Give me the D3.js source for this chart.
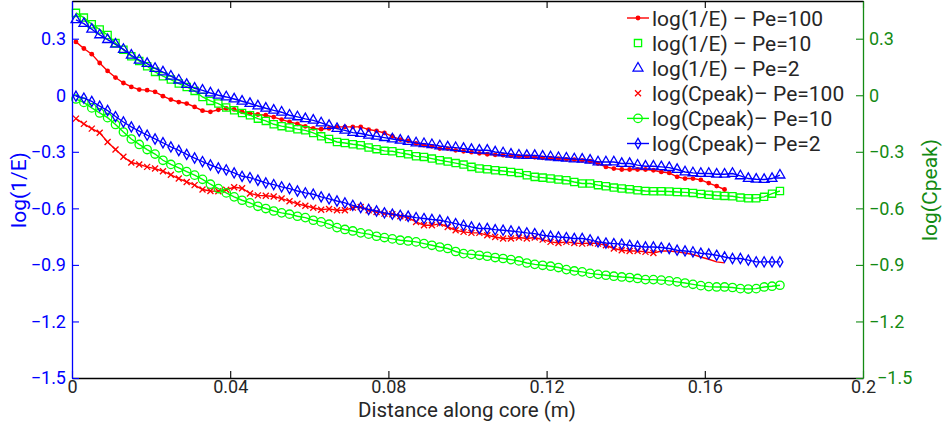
<!DOCTYPE html>
<html>
<head>
<meta charset="utf-8">
<script src="https://cdn.jsdelivr.net/npm/d3@7"></script>
<style>
body { margin: 0; background: #fff; }
svg text { font-family: Roboto, "Noto Sans", sans-serif; }
</style>
</head>
<body>
<svg width="943" height="424"></svg>
<script>
// distance along core (m), one value per marker
var distance = [
  0.001,0.003,0.005,0.007,0.009,0.011,0.013,0.015,0.017,0.019,
  0.021,0.023,0.025,0.027,0.029,0.031,0.033,0.035,0.037,0.039,
  0.041,0.043,0.045,0.047,0.049,0.051,0.053,0.055,0.057,0.059,
  0.061,0.063,0.065,0.067,0.069,0.071,0.073,0.075,0.077,0.079,
  0.081,0.083,0.085,0.087,0.089,0.091,0.093,0.095,0.097,0.099,
  0.101,0.103,0.105,0.107,0.109,0.111,0.113,0.115,0.117,0.119,
  0.121,0.123,0.125,0.127,0.129,0.131,0.133,0.135,0.137,0.139,
  0.141,0.143,0.145,0.147,0.149,0.151,0.153,0.155,0.157,0.159,
  0.161,0.163,0.165,0.167,0.169,0.171,0.173,0.175,0.177,0.179]

// log(1/E)
var e100 = [
  0.283,0.248,0.218,0.171,0.129,0.094,0.065,0.044,0.03,0.027,
  0.018,-0.005,-0.023,-0.036,-0.044,-0.062,-0.082,-0.088,-0.077,-0.07,
  -0.075,-0.088,-0.095,-0.102,-0.106,-0.116,-0.129,-0.141,-0.152,-0.165,
  -0.176,-0.18,-0.176,-0.168,-0.168,-0.168,-0.168,-0.182,-0.189,-0.2,
  -0.218,-0.235,-0.242,-0.256,-0.265,-0.271,-0.283,-0.283,-0.292,-0.297,
  -0.302,-0.308,-0.313,-0.316,-0.318,-0.321,-0.324,-0.326,-0.329,-0.332,
  -0.334,-0.337,-0.34,-0.342,-0.345,-0.35,-0.362,-0.38,-0.389,-0.394,
  -0.394,-0.394,-0.394,-0.398,-0.407,-0.412,-0.433,-0.442,-0.442,-0.449,
  -0.466,-0.482,-0.5]
var e10 = [
  0.437,0.412,0.377,0.349,0.32,0.277,0.242,0.207,0.182,0.154,
  0.124,0.101,0.083,0.062,0.044,0.023,-0.009,-0.03,-0.044,-0.065,
  -0.08,-0.094,-0.106,-0.124,-0.136,-0.154,-0.164,-0.171,-0.18,-0.186,
  -0.2,-0.218,-0.232,-0.248,-0.253,-0.26,-0.265,-0.277,-0.286,-0.295,
  -0.297,-0.306,-0.313,-0.324,-0.327,-0.336,-0.345,-0.352,-0.36,-0.368,
  -0.38,-0.389,-0.393,-0.398,-0.402,-0.407,-0.412,-0.424,-0.433,-0.437,
  -0.442,-0.447,-0.451,-0.46,-0.468,-0.468,-0.477,-0.483,-0.49,-0.495,
  -0.499,-0.504,-0.508,-0.509,-0.509,-0.511,-0.513,-0.515,-0.518,-0.524,
  -0.528,-0.532,-0.534,-0.536,-0.543,-0.546,-0.546,-0.539,-0.522,-0.508]
var e2 = [
  0.40,0.38,0.35,0.32,0.295,0.27,0.243,0.212,0.186,0.168,
  0.142,0.123,0.101,0.08,0.057,0.037,0.026,0.012,0.0,-0.009,
  -0.02,-0.032,-0.044,-0.057,-0.069,-0.08,-0.09,-0.106,-0.115,-0.125,
  -0.133,-0.147,-0.161,-0.177,-0.186,-0.198,-0.203,-0.212,-0.218,-0.225,
  -0.232,-0.239,-0.246,-0.253,-0.257,-0.262,-0.269,-0.275,-0.278,-0.283,
  -0.288,-0.292,-0.292,-0.301,-0.306,-0.313,-0.318,-0.32,-0.32,-0.324,
  -0.327,-0.331,-0.334,-0.338,-0.34,-0.345,-0.354,-0.354,-0.354,-0.362,
  -0.362,-0.371,-0.377,-0.377,-0.38,-0.384,-0.394,-0.407,-0.412,-0.415,
  -0.415,-0.419,-0.419,-0.415,-0.428,-0.442,-0.446,-0.447,-0.442,-0.424]

// log(Cpeak)
var c100 = [
  -0.124,-0.152,-0.177,-0.199,-0.248,-0.288,-0.326,-0.357,-0.367,-0.38,
  -0.389,-0.403,-0.422,-0.442,-0.46,-0.477,-0.5,-0.508,-0.509,-0.501,
  -0.488,-0.493,-0.521,-0.531,-0.533,-0.537,-0.548,-0.562,-0.576,-0.586,
  -0.597,-0.607,-0.603,-0.61,-0.61,-0.596,-0.593,-0.61,-0.619,-0.628,
  -0.631,-0.642,-0.649,-0.672,-0.69,-0.69,-0.681,-0.699,-0.716,-0.725,
  -0.73,-0.73,-0.743,-0.752,-0.76,-0.76,-0.755,-0.76,-0.755,-0.766,
  -0.778,-0.784,-0.778,-0.784,-0.787,-0.784,-0.787,-0.796,-0.813,-0.822,
  -0.826,-0.826,-0.831,-0.837,-0.826,-0.826,-0.831,-0.837,-0.845,-0.858,
  -0.87,-0.884,-0.889]
var c100Marked = 74   // crosses only drawn on the first points
var c10 = [
  -0.02,-0.038,-0.067,-0.094,-0.119,-0.155,-0.195,-0.232,-0.261,-0.288,
  -0.312,-0.345,-0.367,-0.385,-0.405,-0.424,-0.446,-0.472,-0.495,-0.518,
  -0.539,-0.557,-0.571,-0.589,-0.601,-0.614,-0.624,-0.631,-0.642,-0.649,
  -0.663,-0.672,-0.684,-0.702,-0.712,-0.72,-0.73,-0.737,-0.748,-0.755,
  -0.762,-0.769,-0.773,-0.778,-0.787,-0.796,-0.805,-0.813,-0.829,-0.84,
  -0.844,-0.849,-0.854,-0.861,-0.866,-0.872,-0.879,-0.89,-0.897,-0.902,
  -0.907,-0.914,-0.925,-0.932,-0.937,-0.945,-0.95,-0.955,-0.96,-0.964,
  -0.967,-0.972,-0.978,-0.978,-0.981,-0.985,-0.99,-0.996,-1.003,-1.01,
  -1.015,-1.017,-1.017,-1.02,-1.026,-1.028,-1.026,-1.017,-1.013,-1.008]
var c2 = [
  -0.005,-0.015,-0.033,-0.058,-0.081,-0.113,-0.142,-0.168,-0.19,-0.212,
  -0.232,-0.252,-0.274,-0.293,-0.314,-0.333,-0.352,-0.37,-0.386,-0.396,
  -0.412,-0.43,-0.437,-0.451,-0.465,-0.474,-0.486,-0.495,-0.508,-0.518,
  -0.525,-0.539,-0.55,-0.561,-0.571,-0.584,-0.596,-0.606,-0.614,-0.624,
  -0.631,-0.637,-0.642,-0.649,-0.654,-0.659,-0.663,-0.672,-0.681,-0.69,
  -0.699,-0.707,-0.707,-0.713,-0.716,-0.72,-0.725,-0.73,-0.734,-0.743,
  -0.748,-0.752,-0.755,-0.76,-0.76,-0.767,-0.778,-0.784,-0.787,-0.79,
  -0.796,-0.801,-0.805,-0.805,-0.808,-0.813,-0.822,-0.826,-0.831,-0.838,
  -0.842,-0.849,-0.858,-0.866,-0.866,-0.875,-0.884,-0.884,-0.884,-0.884]

var xTicks = [0, 0.04, 0.08, 0.12, 0.16, 0.2]
var xTickLabels = ["0", "0.04", "0.08", "0.12", "0.16", "0.2"]
var yTicks = [0.3, 0, -0.3, -0.6, -0.9, -1.2, -1.5]
var yTickLabels = ["0.3", "0", "\u22120.3", "\u22120.6", "\u22120.9", "\u22121.2", "\u22121.5"]
var legendLabels = ["log(1/E) \u2013 Pe=100", "log(1/E) \u2013 Pe=10", "log(1/E) \u2013 Pe=2",
                    "log(Cpeak)\u2013 Pe=100", "log(Cpeak)\u2013 Pe=10", "log(Cpeak)\u2013 Pe=2"]

var RED = "#ff0000", GREEN = "#00ff00", BLUE = "#0000ff"
var AXGREEN = "#138a13", INK = "#262626"

var svg = d3.select("svg")

var x = d3.scaleLinear().domain([0, 0.2]).range([72, 863])
var yL = d3.scaleLinear().domain([-1.5, 0.5]).range([378, 1])
var yR = d3.scaleLinear().domain([-1.5, 0.5]).range([378, 1])

var series = [
  {vals: e100, y: yL, color: RED,   marker: "dot",      legendLine: true},
  {vals: e10,  y: yL, color: GREEN, marker: "square",   legendLine: false},
  {vals: e2,   y: yL, color: BLUE,  marker: "triangle", legendLine: false},
  {vals: c100, y: yR, color: RED,   marker: "cross",    legendLine: false, marked: c100Marked},
  {vals: c10,  y: yR, color: GREEN, marker: "circle",   legendLine: true},
  {vals: c2,   y: yR, color: BLUE,  marker: "diamond",  legendLine: true}
]

function drawMarker(g, type, cx, cy, color) {
  if (type == "dot") {
    g.append("circle").attr("cx", cx).attr("cy", cy).attr("r", 2.4).attr("fill", color)
  } else if (type == "circle") {
    g.append("circle").attr("cx", cx).attr("cy", cy).attr("r", 4.2)
      .attr("fill", "none").attr("stroke", color).attr("stroke-width", 1.3)
  } else if (type == "cross") {
    var s = 3
    g.append("path")
      .attr("d", "M" + (cx - s) + "," + (cy - s) + "L" + (cx + s) + "," + (cy + s) +
                 "M" + (cx - s) + "," + (cy + s) + "L" + (cx + s) + "," + (cy - s))
      .attr("stroke", color).attr("stroke-width", 1.3)
  } else {
    var sym = {square: d3.symbolSquare, triangle: d3.symbolTriangle, diamond: d3.symbolDiamond}[type]
    var size = {square: 52, triangle: 42, diamond: 30}[type]
    g.append("path")
      .attr("d", d3.symbol(sym, size)())
      .attr("transform", "translate(" + cx + "," + cy + ")")
      .attr("fill", "none").attr("stroke", color).attr("stroke-width", 1.3)
  }
}

var plot = svg.append("g")

series.forEach(function(s) {
  var line = d3.line()
    .x(function(d, i) { return x(distance[i]) })
    .y(function(d) { return s.y(d) })
  plot.append("path")
    .attr("d", line(s.vals))
    .attr("fill", "none")
    .attr("stroke", s.color)
    .attr("stroke-width", 1.4)
  var n = s.marked || s.vals.length
  var mg = plot.append("g")
  s.vals.slice(0, n).forEach(function(v, i) {
    drawMarker(mg, s.marker, x(distance[i]), s.y(v), s.color)
  })
})

// legend (white box, no frame)
var leg = svg.append("g")
leg.append("rect").attr("x", 619).attr("y", 2).attr("width", 238).attr("height", 153).attr("fill", "#fff")
series.forEach(function(s, i) {
  var cy = 18 + i * 25.1
  if (s.legendLine) {
    leg.append("line").attr("x1", 627).attr("x2", 649).attr("y1", cy).attr("y2", cy)
      .attr("stroke", s.color).attr("stroke-width", 1.4)
  }
  drawMarker(leg, s.marker, 638, cy, s.color)
  leg.append("text")
    .attr("x", 652).attr("y", cy).attr("dy", "0.36em")
    .attr("fill", INK).style("font-size", "21px")
    .text(legendLabels[i])
})

// axes
function styleAxis(g, color, textColor) {
  g.attr("font-family", null).attr("font-size", null)
  g.select(".domain").attr("stroke", color).attr("stroke-width", 1.3)
  g.selectAll(".tick line").attr("stroke", color).attr("stroke-width", 1.1)
  g.selectAll(".tick text").attr("fill", textColor).style("font-size", "18px")
}

var gTop = svg.append("g").attr("transform", "translate(0,1)")
  .call(d3.axisTop(x).tickValues(xTicks).tickFormat("").tickSizeInner(-7).tickSizeOuter(0))
styleAxis(gTop, "#000", INK)

var gBottom = svg.append("g").attr("transform", "translate(0,378)")
  .call(d3.axisBottom(x).tickValues(xTicks)
    .tickFormat(function(d, i) { return xTickLabels[i] })
    .tickSizeInner(-7).tickSizeOuter(0).tickPadding(2))
styleAxis(gBottom, "#000", INK)

var gLeft = svg.append("g").attr("transform", "translate(72,0)")
  .call(d3.axisLeft(yL).tickValues(yTicks)
    .tickFormat(function(d, i) { return yTickLabels[i] })
    .tickSizeInner(-7).tickSizeOuter(0).tickPadding(6))
styleAxis(gLeft, BLUE, BLUE)

var gRight = svg.append("g").attr("transform", "translate(863,0)")
  .call(d3.axisRight(yR).tickValues(yTicks)
    .tickFormat(function(d, i) { return yTickLabels[i] })
    .tickSizeInner(-7).tickSizeOuter(0).tickPadding(6))
styleAxis(gRight, AXGREEN, AXGREEN)
// keep the bottom right label clear of the x tick "0.2"
gRight.selectAll(".tick text").filter(function(d) { return d == -1.5 }).attr("x", 14)

// axis titles
svg.append("text")
  .attr("x", 467).attr("y", 417)
  .attr("text-anchor", "middle")
  .attr("fill", INK).style("font-size", "20.5px")
  .text("Distance along core (m)")

svg.append("text")
  .attr("transform", "translate(26,190) rotate(-90)")
  .attr("text-anchor", "middle")
  .attr("fill", BLUE).style("font-size", "21px")
  .text("log(1/E)")

svg.append("text")
  .attr("transform", "translate(937,190) rotate(-90)")
  .attr("text-anchor", "middle")
  .attr("fill", AXGREEN).style("font-size", "21px")
  .text("log(Cpeak)")
</script>
</body>
</html>
